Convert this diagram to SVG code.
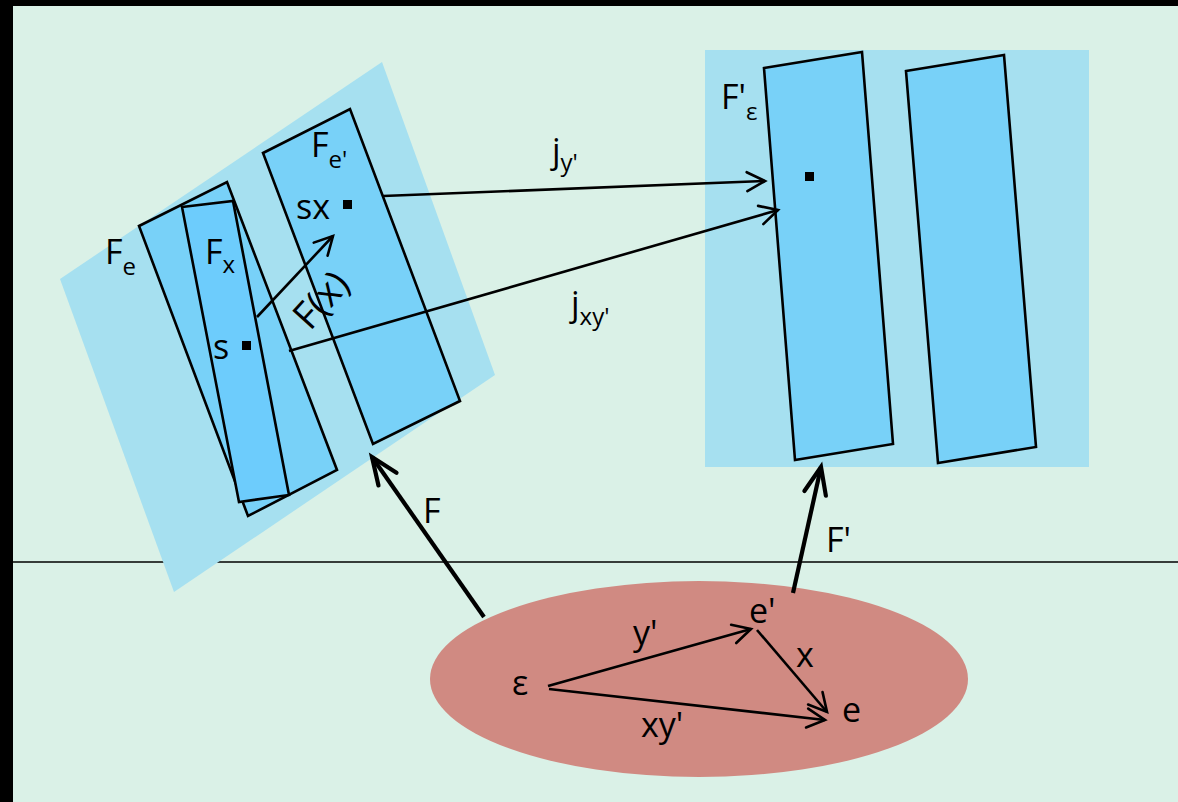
<svg xmlns="http://www.w3.org/2000/svg" width="1178" height="802" viewBox="0 0 1178 802">
<style>
.lbl{font-family:"Open Sans","Liberation Sans",sans-serif;font-size:34px;fill:#000}
.sub{font-size:24px}
.sheet{fill:#78D1F8;stroke:#000;stroke-width:2.6;stroke-linejoin:miter}
.plane{fill:#A6E0F0}
.dot{fill:#000}
.thin{fill:none;stroke:#000;stroke-width:2.6;marker-end:url(#ah)}
.thick{fill:none;stroke:#000;stroke-width:4.2;marker-end:url(#ahT)}
</style>
<defs>
<marker id="ah" markerUnits="userSpaceOnUse" markerWidth="30" markerHeight="30" viewBox="-22 -15 30 30" refX="0" refY="0" orient="auto" overflow="visible">
<path d="M-18,-9.5 L0,0 L-18,9.5" fill="none" stroke="#000" stroke-width="2.6" stroke-linecap="round" stroke-linejoin="miter"/>
</marker>
<marker id="ahT" markerUnits="userSpaceOnUse" markerWidth="40" markerHeight="40" viewBox="-32 -20 40 40" refX="0" refY="0" orient="auto" overflow="visible">
<path d="M-27,-11 L0,0 L-27,11" fill="none" stroke="#000" stroke-width="4.2" stroke-linecap="round" stroke-linejoin="miter"/>
</marker>
</defs>
<rect x="0" y="0" width="1178" height="802" fill="#000"/>
<rect x="13" y="6" width="1165" height="796" fill="#DAF1E7"/>
<line x1="13" y1="562" x2="1178" y2="562" stroke="#000" stroke-width="1.5"/>

<g id="plane-left">
<polygon class="plane" points="382,62 495,375 174,592 60,279"/>
</g>
<g id="plane-right">
<rect class="plane" x="705" y="50" width="384" height="417"/>
</g>

<g id="node-Fe">
<polygon class="sheet" points="139,226 227,182 337,470 248,516"/>
<text class="lbl" x="105" y="264">F<tspan class="sub" dy="11">e</tspan></text>
</g>
<g id="node-Fx">
<polygon class="sheet" points="182,207 233,201 289,495 239,502" style="fill:#6DCCFC"/>
<text class="lbl" x="205" y="264">F<tspan class="sub" dy="9">x</tspan></text>
<text class="lbl" x="213" y="359">s</text>
<rect class="dot" x="242" y="341" width="9" height="9"/>
</g>
<g id="node-Fe2">
<polygon class="sheet" points="263,153 350,109 460,401 373,444"/>
<text class="lbl" x="311" y="157">F<tspan class="sub" dy="11">e'</tspan></text>
<text class="lbl" x="296" y="219">sx</text>
<rect class="dot" x="343" y="200" width="9" height="9"/>
</g>
<g id="node-Feps">
<polygon class="sheet" points="764,68 862,52 893,444 795,460"/>
<text class="lbl" x="721" y="109">F'<tspan class="sub" dy="11">ε</tspan></text>
<rect class="dot" x="805" y="172" width="9" height="9"/>
</g>
<g id="node-F2">
<polygon class="sheet" points="906,71 1004,55 1036,447 938,463"/>
</g>

<g id="node-base">
<ellipse cx="699" cy="679" rx="269" ry="98" fill="#D08A82"/>
<text class="lbl" x="512" y="695">ε</text>
<text class="lbl" x="749" y="623">e'</text>
<text class="lbl" x="842" y="722">e</text>
</g>

<g id="connectors">
<line class="thin" x1="257" y1="317" x2="333" y2="236"/>
<line class="thin" x1="383" y1="196" x2="765" y2="181"/>
<line class="thin" x1="289" y1="351" x2="778" y2="210"/>
<line class="thick" x1="484" y1="617" x2="372" y2="457"/>
<line class="thick" x1="793" y1="593" x2="821" y2="467"/>
<line class="thin" x1="548" y1="686" x2="751" y2="629"/>
<line class="thin" x1="757" y1="630" x2="827" y2="712"/>
<line class="thin" x1="549" y1="689" x2="825" y2="720"/>
</g>

<g id="labels">
<text class="lbl" transform="translate(321,300) rotate(-48)" text-anchor="middle" y="13" style="font-size:38px">F(x)</text>
<text class="lbl" x="552" y="163">j<tspan class="sub" dy="8">y'</tspan></text>
<text class="lbl" x="571" y="316">j<tspan class="sub" dy="9">xy'</tspan></text>
<text class="lbl" x="423" y="523">F</text>
<text class="lbl" x="826" y="552">F'</text>
<text class="lbl" x="633" y="645">y'</text>
<text class="lbl" x="796" y="667">x</text>
<text class="lbl" x="641" y="737">xy'</text>
</g>
</svg>
